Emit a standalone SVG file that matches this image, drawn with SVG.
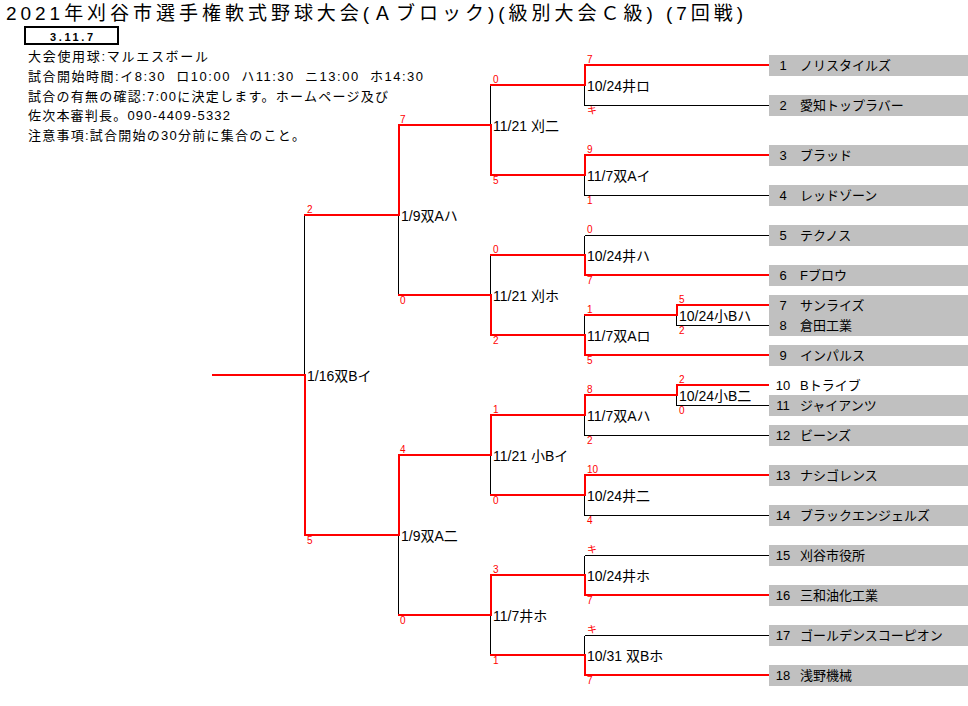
<svg xmlns="http://www.w3.org/2000/svg" width="968" height="706" viewBox="0 0 968 706">
<style>
text{font-family:"Liberation Sans","Noto Sans CJK JP",sans-serif;fill:#000}
.s{font-size:10px;fill:#ff0000}
.m{font-size:14px}
.n{font-size:13px}
.i{font-size:13px}
.w{stroke:#ff0000;stroke-width:2;fill:none;stroke-linecap:square;shape-rendering:crispEdges}
.l{stroke:#000;stroke-width:1;fill:none;shape-rendering:crispEdges}
.box{fill:#c0c0c0}
</style>
<rect width="968" height="706" fill="#fff"/>
<g id="header">
<text x="6" y="20" font-size="19" textLength="737" lengthAdjust="spacing">2021年刈谷市選手権軟式野球大会(Ａブロック)(級別大会Ｃ級) (7回戦)</text>
<rect x="25" y="27" width="93" height="17" fill="none" stroke="#000" stroke-width="2" shape-rendering="crispEdges"/>
<text x="50" y="41" font-size="11" font-weight="bold" textLength="43" lengthAdjust="spacing">3.11.7</text>
<text class="i" x="28" y="61" textLength="180" lengthAdjust="spacing">大会使用球:マルエスボール</text>
<text class="i" x="28" y="81" textLength="395" lengthAdjust="spacing" xml:space="preserve">試合開始時間:イ8:30  ロ10:00  ハ11:30  ニ13:00  ホ14:30</text>
<text class="i" x="28" y="101" textLength="360" lengthAdjust="spacing">試合の有無の確認:7:00に決定します。ホームページ及び</text>
<text class="i" x="28" y="120" textLength="202" lengthAdjust="spacing">佐次本審判長。090-4409-5332</text>
<text class="i" x="28" y="140" textLength="277" lengthAdjust="spacing">注意事項:試合開始の30分前に集合のこと。</text>
</g>
<g id="connectors">
<path class="l" d="M584.5 105.5H769M584.5 85V105.5"/>
<path class="l" d="M584.5 195.5H769M584.5 175V195.5"/>
<path class="l" d="M584.5 235.5H769M584.5 235.5V255"/>
<path class="l" d="M676.5 325.5H769M676.5 315V325.5"/>
<path class="l" d="M584.5 315V335"/>
<path class="l" d="M676.5 405.5H769M676.5 395V405.5"/>
<path class="l" d="M584.5 435.5H769M584.5 415V435.5"/>
<path class="l" d="M584.5 515.5H769M584.5 495V515.5"/>
<path class="l" d="M584.5 555.5H769M584.5 555.5V575"/>
<path class="l" d="M584.5 635.5H769M584.5 635.5V655"/>
<path class="l" d="M490.5 85V125"/>
<path class="l" d="M490.5 255V295"/>
<path class="l" d="M490.5 455V495"/>
<path class="l" d="M490.5 615V655"/>
<path class="l" d="M398.5 215V295"/>
<path class="l" d="M398.5 535V615"/>
<path class="l" d="M304.5 215V375"/>
<path class="w" d="M585 65H768M585 65V85"/>
<path class="w" d="M585 155H768M585 155V175"/>
<path class="w" d="M585 275H768M585 255V275"/>
<path class="w" d="M677 305H768M677 305V315"/>
<path class="w" d="M585 315H677"/>
<path class="w" d="M585 355H768M585 335V355"/>
<path class="w" d="M677 385H768M677 385V395"/>
<path class="w" d="M585 395H677M585 395V415"/>
<path class="w" d="M585 475H768M585 475V495"/>
<path class="w" d="M585 595H768M585 575V595"/>
<path class="w" d="M585 675H768M585 655V675"/>
<path class="w" d="M491 85H585M491 175H585M491 125V175"/>
<path class="w" d="M491 255H585M491 335H585M491 295V335"/>
<path class="w" d="M491 415H585M491 495H585M491 415V455"/>
<path class="w" d="M491 575H585M491 655H585M491 575V615"/>
<path class="w" d="M399 125H491M399 295H491M399 125V215"/>
<path class="w" d="M399 455H491M399 615H491M399 455V535"/>
<path class="w" d="M305 215H399M305 535H399M305 375V535M213 375H305"/>
</g>
<g id="scores">
<text class="s" x="587" y="63">7</text>
<text class="s" x="587" y="114">キ</text>
<text class="s" x="587" y="153">9</text>
<text class="s" x="587" y="204">1</text>
<text class="s" x="587" y="233">0</text>
<text class="s" x="587" y="284">7</text>
<text class="s" x="679" y="303">5</text>
<text class="s" x="679" y="334">2</text>
<text class="s" x="587" y="313">1</text>
<text class="s" x="587" y="364">5</text>
<text class="s" x="679" y="383">2</text>
<text class="s" x="679" y="414">0</text>
<text class="s" x="587" y="393">8</text>
<text class="s" x="587" y="444">2</text>
<text class="s" x="587" y="473">10</text>
<text class="s" x="587" y="524">4</text>
<text class="s" x="587" y="553">キ</text>
<text class="s" x="587" y="604">7</text>
<text class="s" x="587" y="633">キ</text>
<text class="s" x="587" y="684">7</text>
<text class="s" x="493" y="83">0</text>
<text class="s" x="493" y="184">5</text>
<text class="s" x="493" y="253">0</text>
<text class="s" x="493" y="344">2</text>
<text class="s" x="493" y="413">1</text>
<text class="s" x="493" y="504">0</text>
<text class="s" x="493" y="573">3</text>
<text class="s" x="493" y="664">1</text>
<text class="s" x="400" y="123">7</text>
<text class="s" x="400" y="304">0</text>
<text class="s" x="400" y="453">4</text>
<text class="s" x="400" y="624">0</text>
<text class="s" x="307" y="213">2</text>
<text class="s" x="307" y="544">5</text>
</g>
<g id="matches">
<g id="m1"><text class="m" x="587" y="91">10/24井ロ</text></g>
<g id="m2"><text class="m" x="587" y="181">11/7双Aイ</text></g>
<g id="m3"><text class="m" x="587" y="261">10/24井ハ</text></g>
<g id="m4"><text class="m" x="679" y="321">10/24小Bハ</text></g>
<g id="m5"><text class="m" x="587" y="341">11/7双Aロ</text></g>
<g id="m6"><text class="m" x="679" y="401">10/24小B二</text></g>
<g id="m7"><text class="m" x="587" y="421">11/7双Aハ</text></g>
<g id="m8"><text class="m" x="587" y="501">10/24井二</text></g>
<g id="m9"><text class="m" x="587" y="581">10/24井ホ</text></g>
<g id="m10"><text class="m" x="587" y="661">10/31 双Bホ</text></g>
<g id="m11"><text class="m" x="493" y="131">11/21 刈二</text></g>
<g id="m12"><text class="m" x="493" y="301">11/21 刈ホ</text></g>
<g id="m13"><text class="m" x="493" y="461">11/21 小Bイ</text></g>
<g id="m14"><text class="m" x="493" y="621">11/7井ホ</text></g>
<g id="m15"><text class="m" x="401" y="221">1/9双Aハ</text></g>
<g id="m16"><text class="m" x="401" y="541">1/9双A二</text></g>
<g id="m17"><text class="m" x="307" y="381">1/16双Bイ</text></g>
</g>
<g id="teams">
<g id="t1"><rect class="box" x="769" y="55" width="199" height="21"/><text class="n" x="783" y="70" text-anchor="middle">1</text><text class="n" x="800" y="70">ノリスタイルズ</text></g>
<g id="t2"><rect class="box" x="769" y="95" width="199" height="21"/><text class="n" x="783" y="110" text-anchor="middle">2</text><text class="n" x="800" y="110">愛知トップラバー</text></g>
<g id="t3"><rect class="box" x="769" y="145" width="199" height="21"/><text class="n" x="783" y="160" text-anchor="middle">3</text><text class="n" x="800" y="160">ブラッド</text></g>
<g id="t4"><rect class="box" x="769" y="185" width="199" height="21"/><text class="n" x="783" y="200" text-anchor="middle">4</text><text class="n" x="800" y="200">レッドゾーン</text></g>
<g id="t5"><rect class="box" x="769" y="225" width="199" height="21"/><text class="n" x="783" y="240" text-anchor="middle">5</text><text class="n" x="800" y="240">テクノス</text></g>
<g id="t6"><rect class="box" x="769" y="265" width="199" height="21"/><text class="n" x="783" y="280" text-anchor="middle">6</text><text class="n" x="800" y="280">Fブロウ</text></g>
<g id="t7"><rect class="box" x="769" y="295" width="199" height="41"/><text class="n" x="783" y="310" text-anchor="middle">7</text><text class="n" x="800" y="310">サンライズ</text></g>
<g id="t8"><text class="n" x="783" y="330" text-anchor="middle">8</text><text class="n" x="800" y="330">倉田工業</text></g>
<g id="t9"><rect class="box" x="769" y="345" width="199" height="21"/><text class="n" x="783" y="360" text-anchor="middle">9</text><text class="n" x="800" y="360">インパルス</text></g>
<g id="t10"><text class="n" x="783" y="390" text-anchor="middle">10</text><text class="n" x="800" y="390">Bトライブ</text></g>
<g id="t11"><rect class="box" x="769" y="395" width="199" height="21"/><text class="n" x="783" y="410" text-anchor="middle">11</text><text class="n" x="800" y="410">ジャイアンツ</text></g>
<g id="t12"><rect class="box" x="769" y="425" width="199" height="21"/><text class="n" x="783" y="440" text-anchor="middle">12</text><text class="n" x="800" y="440">ビーンズ</text></g>
<g id="t13"><rect class="box" x="769" y="465" width="199" height="21"/><text class="n" x="783" y="480" text-anchor="middle">13</text><text class="n" x="800" y="480">ナシゴレンス</text></g>
<g id="t14"><rect class="box" x="769" y="505" width="199" height="21"/><text class="n" x="783" y="520" text-anchor="middle">14</text><text class="n" x="800" y="520">ブラックエンジェルズ</text></g>
<g id="t15"><rect class="box" x="769" y="545" width="199" height="21"/><text class="n" x="783" y="560" text-anchor="middle">15</text><text class="n" x="800" y="560">刈谷市役所</text></g>
<g id="t16"><rect class="box" x="769" y="585" width="199" height="21"/><text class="n" x="783" y="600" text-anchor="middle">16</text><text class="n" x="800" y="600">三和油化工業</text></g>
<g id="t17"><rect class="box" x="769" y="625" width="199" height="21"/><text class="n" x="783" y="640" text-anchor="middle">17</text><text class="n" x="800" y="640">ゴールデンスコーピオン</text></g>
<g id="t18"><rect class="box" x="769" y="665" width="199" height="21"/><text class="n" x="783" y="680" text-anchor="middle">18</text><text class="n" x="800" y="680">浅野機械</text></g>
</g>
</svg>
